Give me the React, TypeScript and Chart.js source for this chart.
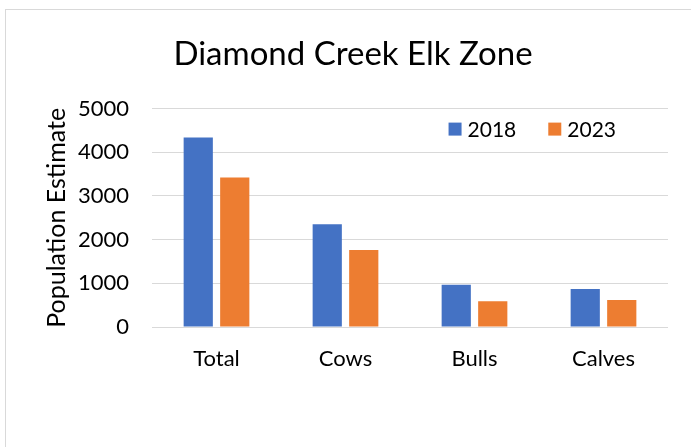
import React, { useEffect, useRef } from "react";
import { Chart, registerables } from "chart.js";

Chart.register(...registerables);

const chartTitle = "Diamond Creek Elk Zone";
const yAxisTitle = "Population Estimate";
const categories = ["Total", "Cows", "Bulls", "Calves"];
const seriesNames = ["2018", "2023"];
const values2018 = [4340, 2350, 970, 870];
const values2023 = [3420, 1760, 590, 620];
const yMin = 0;
const yMax = 5000;
const yStep = 1000;

const FONT = "Lato, 'Open Sans', sans-serif";

const insideLegend = {
  id: "insideLegend",
  afterDraw(chart: any) {
    const { ctx, chartArea } = chart;
    ctx.save();
    ctx.font = `21px ${FONT}`;
    const box = 13;
    const gap = 6;
    const spacing = 32;
    const items = chart.data.datasets.map((ds: any) => ({
      text: ds.label,
      color: ds.backgroundColor,
      w: ctx.measureText(ds.label).width,
    }));
    const total =
      items.reduce((s: number, it: any) => s + box + gap + it.w, 0) +
      spacing * (items.length - 1);
    let x = chartArea.right - 52 - total;
    const cy = chartArea.top + 20.5;
    ctx.textBaseline = "middle";
    ctx.textAlign = "left";
    for (const it of items) {
      ctx.fillStyle = it.color;
      ctx.fillRect(x, cy - box / 2, box, box);
      x += box + gap;
      ctx.fillStyle = "#000";
      ctx.fillText(it.text, x, cy + 1);
      x += it.w + spacing;
    }
    ctx.restore();
  },
};

export default function App() {
  const ref = useRef<HTMLCanvasElement | null>(null);

  useEffect(() => {
    if (!ref.current) return;
    const chart = new Chart(ref.current, {
      type: "bar",
      data: {
        labels: categories,
        datasets: [
          {
            label: seriesNames[0],
            data: values2018,
            backgroundColor: "#4472C4",
            categoryPercentage: 0.566,
            barPercentage: 0.8,
          },
          {
            label: seriesNames[1],
            data: values2023,
            backgroundColor: "#ED7D31",
            categoryPercentage: 0.566,
            barPercentage: 0.8,
          },
        ],
      },
      options: {
        animation: false,
        responsive: false,
        maintainAspectRatio: false,
        layout: { padding: { left: 32, right: 38, top: 0, bottom: 0 } },
        plugins: {
          legend: { display: false },
          tooltip: { enabled: false },
          title: {
            display: true,
            text: chartTitle,
            color: "#000",
            font: { family: FONT, size: 33, weight: "normal" },
            padding: { top: 25, bottom: 34 },
          },
        },
        scales: {
          x: {
            grid: { display: false, drawTicks: false },
            border: { display: false },
            ticks: {
              color: "#000",
              font: { family: FONT, size: 22 },
              padding: 19,
            },
            afterFit: (s: any) => {
              s.height = 133;
            },
          },
          y: {
            min: yMin,
            max: yMax,
            ticks: {
              stepSize: yStep,
              color: "#000",
              font: { family: FONT, size: 22 },
              padding: 23,
              callback: (v: any) => String(v),
            },
            grid: { color: "#d9d9d9", lineWidth: 1, drawTicks: false },
            border: { display: false },
            title: {
              display: true,
              text: yAxisTitle,
              color: "#000",
              font: { family: FONT, size: 25 },
              padding: { top: 4, bottom: 4 },
            },
            afterFit: (s: any) => {
              s.width = 114;
            },
          },
        },
      },
      plugins: [insideLegend],
    });
    return () => chart.destroy();
  }, []);

  return (
    <div
      style={{
        position: "fixed",
        left: 5,
        top: 9,
        width: 700,
        height: 460,
        border: "1px solid #d9d9d9",
        background: "#fff",
      }}
    >
      <canvas ref={ref} width={700} height={450} style={{ display: "block" }} />
    </div>
  );
}
